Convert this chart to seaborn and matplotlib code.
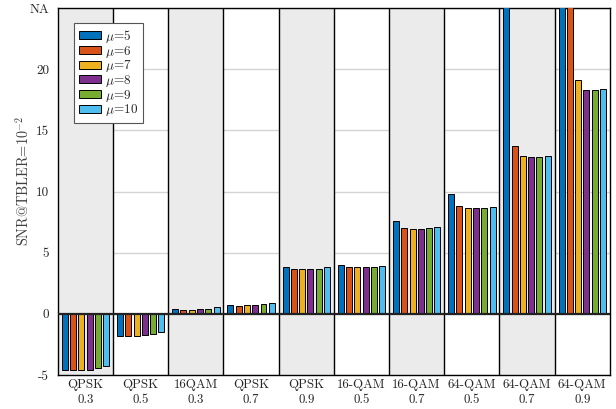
import numpy as np
import pandas as pd
import matplotlib
matplotlib.use('Agg')
import matplotlib.pyplot as plt
import seaborn as sns

# tick labels (modulation / code rate)
categories = ['QPSK\n0.3', 'QPSK\n0.5', '16QAM\n0.3', 'QPSK\n0.7', 'QPSK\n0.9',
              '16-QAM\n0.5', '16-QAM\n0.7', '64-QAM\n0.5', '64-QAM\n0.7', '64-QAM\n0.9']
mus = [5, 6, 7, 8, 9, 10]

# SNR @ TBLER=1e-2 per mu, NaN = not achieved (NA)
snr_mu5 = [-4.6, -1.8, 0.38, 0.75, 3.85, 4.0, 7.6, 9.8, np.nan, np.nan]
snr_mu6 = [-4.6, -1.8, 0.33, 0.68, 3.7, 3.85, 7.0, 8.8, 13.7, np.nan]
snr_mu7 = [-4.6, -1.8, 0.33, 0.70, 3.65, 3.85, 6.95, 8.65, 12.9, 19.1]
snr_mu8 = [-4.55, -1.75, 0.38, 0.72, 3.65, 3.85, 6.95, 8.65, 12.8, 18.35]
snr_mu9 = [-4.45, -1.65, 0.42, 0.78, 3.7, 3.85, 7.0, 8.7, 12.85, 18.33]
snr_mu10 = [-4.3, -1.5, 0.55, 0.90, 3.8, 3.95, 7.1, 8.75, 12.9, 18.4]

colors = ['#0072BD', '#D95319', '#EDB120', '#7E2F8E', '#77AC30', '#4DBEEE']


def generate_plot(df):
    sns.set_theme(style='white')
    plt.rcParams['font.family'] = ['cmr10', 'DejaVu Serif']
    plt.rcParams['mathtext.fontset'] = 'cm'
    plt.rcParams['axes.formatter.use_mathtext'] = True

    fig, ax = plt.subplots(figsize=(6.16, 4.09), dpi=100)
    fig.subplots_adjust(left=0.094, right=0.990, top=0.980, bottom=0.083)

    # alternating group shading
    for i in range(len(categories)):
        if i % 2 == 0:
            ax.axvspan(i - 0.5, i + 0.5, color='#ebebeb', zorder=0.8, lw=0)
    for i in range(len(categories) - 1):
        ax.axvline(i + 0.5, color='black', lw=1.0, zorder=0.9)

    hue_order = [r'$\mu\!=\!%d$' % m for m in mus]
    sns.barplot(data=df, x='cat', y='snr', hue='mu', hue_order=hue_order,
                order=categories, palette=colors, saturation=1, width=0.9, gap=0.28,
                edgecolor='black', linewidth=0.7, ax=ax, zorder=3)

    ax.axhline(0, color='#222222', lw=1.6, zorder=4)

    ax.set_ylim(-5, 25)
    ax.set_xlim(-0.5, len(categories) - 0.5)
    ax.set_yticks([-5, 0, 5, 10, 15, 20, 25])
    ax.set_yticklabels(['-5', '0', '5', '10', '15', '20', 'NA'], fontsize=9.5)
    ax.set_xticks(range(len(categories)))
    ax.set_xticklabels(categories, fontsize=9.3, linespacing=1.25)
    ax.tick_params(axis='x', pad=-3)
    ax.tick_params(axis='y', pad=0.5)
    ax.set_axisbelow(True)
    ax.yaxis.grid(True, color='#d4d4d4', lw=1.0)
    ax.set_xlabel('')
    ax.set_ylabel(r'SNR@TBLER=$10^{-2}$', fontsize=10.3, color='#404040')
    ax.yaxis.set_label_coords(-0.047, 0.53)
    for s in ax.spines.values():
        s.set_color('black')
        s.set_linewidth(1.0)

    leg = ax.legend(loc='upper left', bbox_to_anchor=(0.029, 0.959), borderaxespad=0,
                    fontsize=9.5, handlelength=1.7, handleheight=0.55,
                    labelspacing=-0.1, handletextpad=0.3, borderpad=0.35,
                    fancybox=False, framealpha=1)
    leg.get_frame().set_edgecolor('#555555')
    leg.get_frame().set_linewidth(0.8)
    leg.set_zorder(5)

    fig.savefig('out.png', dpi=100)


def main():
    series = [snr_mu5, snr_mu6, snr_mu7, snr_mu8, snr_mu9, snr_mu10]
    rows = []
    for m, vals in zip(mus, series):
        for c, v in zip(categories, vals):
            rows.append({'cat': c, 'mu': r'$\mu\!=\!%d$' % m, 'snr': v})
    df = pd.DataFrame(rows)
    # NA bars run off the top of the axis
    df['snr'] = df['snr'].fillna(100)
    generate_plot(df)


if __name__ == '__main__':
    main()
